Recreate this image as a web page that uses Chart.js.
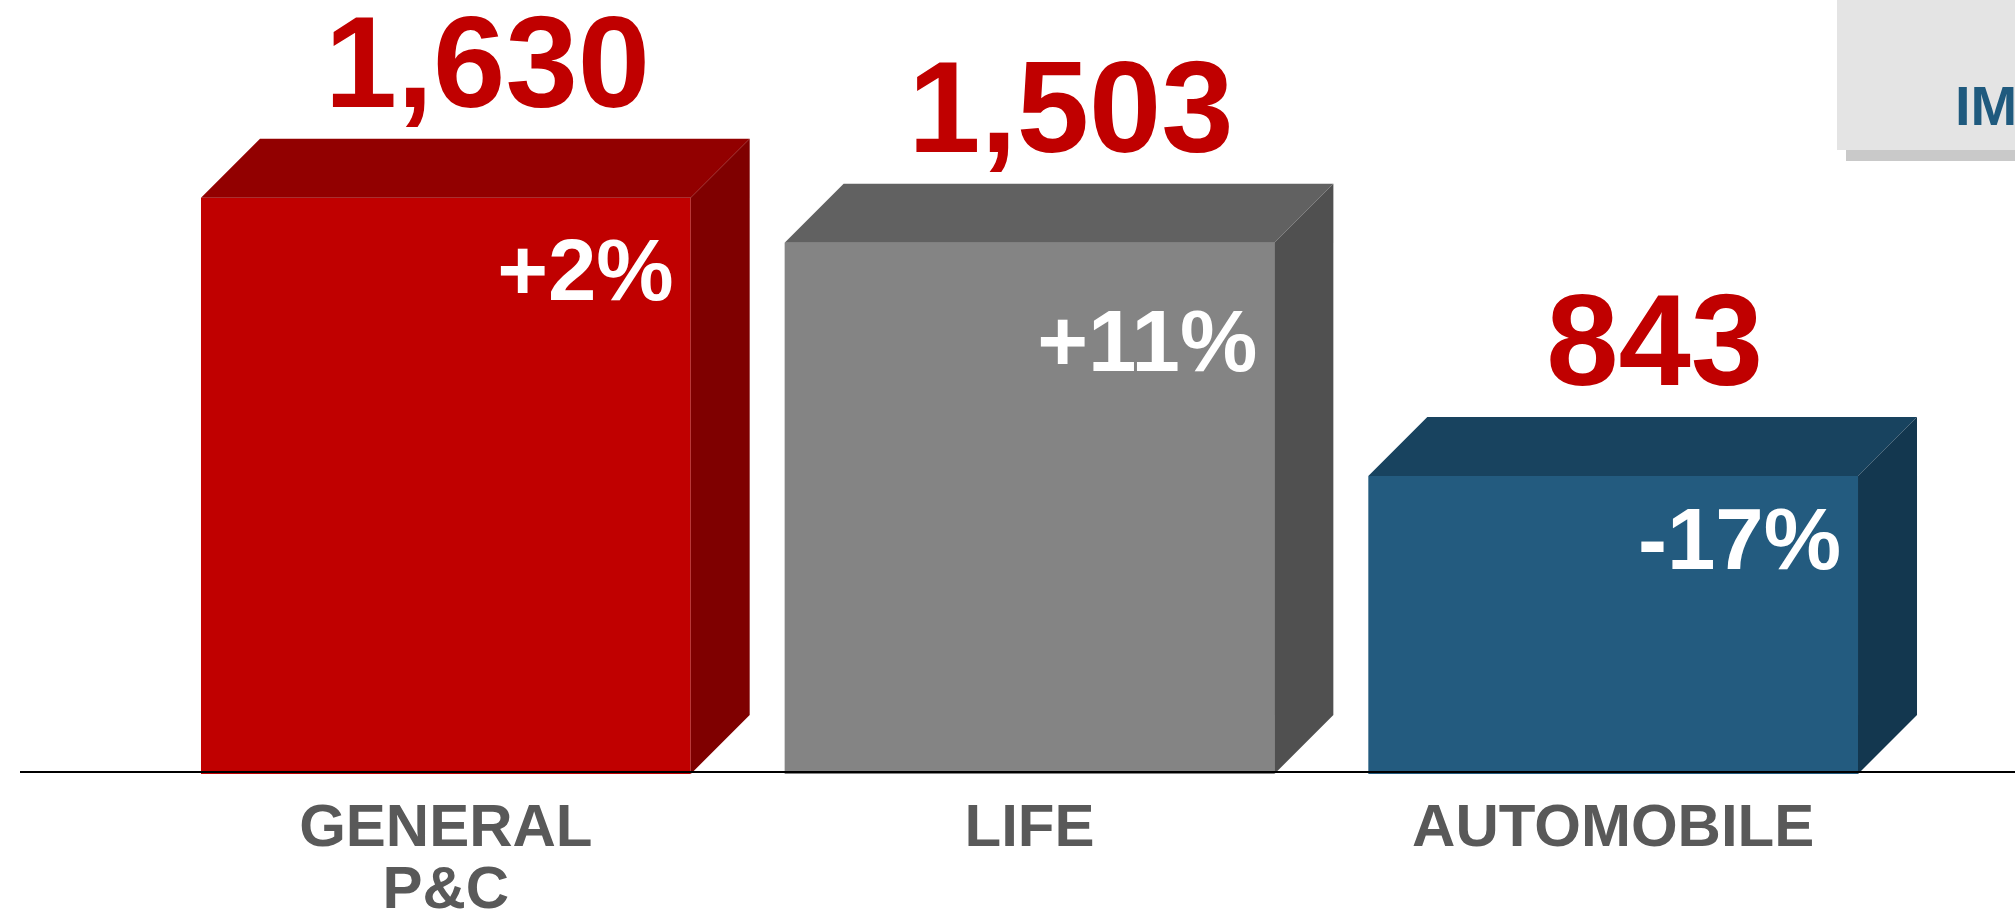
<!DOCTYPE html>
<html>
<head>
<meta charset="utf-8">
<script src="https://cdn.jsdelivr.net/npm/chart.js@4/dist/chart.umd.min.js"></script>
<style>
  html, body { margin: 0; padding: 0; background: #fff; }
  #wrap { width: 2015px; height: 913px; position: relative; }
</style>
</head>
<body>
<div id="wrap"><canvas id="chartCanvas" width="2015" height="913"></canvas></div>
<script>
const categories = [['GENERAL', 'P&C'], ['LIFE'], ['AUTOMOBILE']];
const premiums = [1630, 1503, 843];
const growth = ['+2%', '+11%', '-17%'];

const frontColors = ['#c00000', '#848484', '#235b7f'];
const topColors = ['#920000', '#616161', '#18435f'];
const sideColors = ['#7f0000', '#505050', '#13374f'];
// how far below the front top edge each growth label sits
const growthDrop = [102, 128, 93];

const FONT = '"Liberation Sans", Arial, sans-serif';
const DEPTH_X = 59;
const DEPTH_Y = 59;

// draws the top and side faces of each bar plus all the text around them
const boxPlugin = {
  id: 'boxes',
  beforeDraw(chart) {
    const ctx = chart.ctx;
    // callout box in the corner
    ctx.save();
    ctx.fillStyle = '#c9c9c9';
    ctx.fillRect(1846, 150, 169, 11);
    ctx.fillStyle = '#e4e4e4';
    ctx.fillRect(1837, 0, 178, 150);
    ctx.fillStyle = '#1f5a7e';
    ctx.font = 'bold 56px ' + FONT;
    ctx.textBaseline = 'alphabetic';
    ctx.textAlign = 'left';
    ctx.fillText('IM', 1955, 125);
    ctx.restore();
  },
  afterDatasetsDraw(chart) {
    const ctx = chart.ctx;
    const meta = chart.getDatasetMeta(0);
    const yScale = chart.scales.y;
    const xScale = chart.scales.x;
    const zeroY = yScale.getPixelForValue(0);

    ctx.save();
    meta.data.forEach((bar, i) => {
      const left = bar.x - bar.width / 2;
      const right = bar.x + bar.width / 2;
      const top = bar.y;
      const base = bar.base;

      ctx.fillStyle = topColors[i];
      ctx.beginPath();
      ctx.moveTo(left, top);
      ctx.lineTo(left + DEPTH_X, top - DEPTH_Y);
      ctx.lineTo(right + DEPTH_X, top - DEPTH_Y);
      ctx.lineTo(right, top);
      ctx.closePath();
      ctx.fill();

      ctx.fillStyle = sideColors[i];
      ctx.beginPath();
      ctx.moveTo(right, top);
      ctx.lineTo(right + DEPTH_X, top - DEPTH_Y);
      ctx.lineTo(right + DEPTH_X, base - DEPTH_Y);
      ctx.lineTo(right, base);
      ctx.closePath();
      ctx.fill();

      // value above the box
      ctx.fillStyle = '#c00000';
      ctx.font = 'bold 130px ' + FONT;
      ctx.textAlign = 'center';
      ctx.textBaseline = 'alphabetic';
      ctx.fillText(premiums[i].toLocaleString('en-US'), bar.x + DEPTH_X / 2 + 12, top - DEPTH_Y - 32);

      // growth rate on the front face
      ctx.fillStyle = '#ffffff';
      ctx.font = 'bold 87px ' + FONT;
      ctx.textAlign = 'right';
      ctx.fillText(growth[i], right - 17, top + growthDrop[i]);
    });

    // baseline across the page
    ctx.strokeStyle = '#000000';
    ctx.lineWidth = 2;
    ctx.beginPath();
    ctx.moveTo(20, zeroY - 2);
    ctx.lineTo(chart.width, zeroY - 2);
    ctx.stroke();

    // category names
    ctx.fillStyle = '#595959';
    ctx.font = 'bold 60px ' + FONT;
    ctx.textAlign = 'center';
    ctx.textBaseline = 'alphabetic';
    categories.forEach((lines, i) => {
      const cx = xScale.getPixelForValue(i);
      lines.forEach((t, j) => ctx.fillText(t, cx, zeroY + 72 + j * 62));
    });
    ctx.restore();
  }
};

new Chart(document.getElementById('chartCanvas').getContext('2d'), {
  type: 'bar',
  data: {
    labels: categories.map(c => c.join(' ')),
    datasets: [{
      data: premiums,
      backgroundColor: frontColors,
      borderWidth: 0,
      barPercentage: 0.839,
      categoryPercentage: 1
    }]
  },
  options: {
    responsive: false,
    animation: false,
    layout: { padding: { left: 154, right: 110, top: 67, bottom: 139 } },
    plugins: {
      legend: { display: false },
      tooltip: { enabled: false }
    },
    scales: {
      x: { display: false },
      y: { display: false, min: 0, max: 2000 }
    }
  },
  plugins: [boxPlugin]
});
</script>
</body>
</html>
